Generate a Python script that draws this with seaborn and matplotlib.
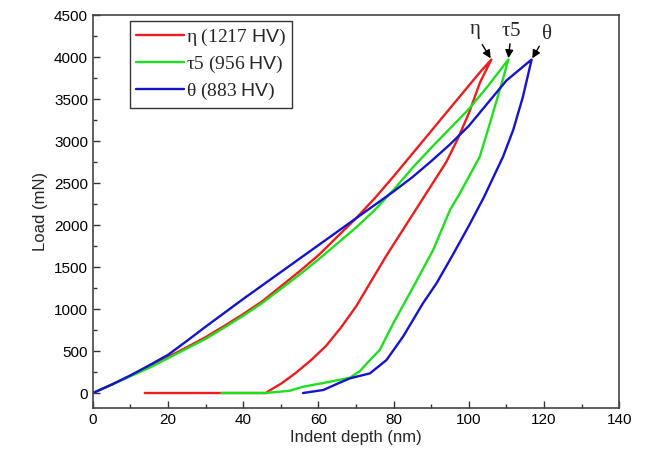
import matplotlib
matplotlib.use("Agg")
import matplotlib.pyplot as plt
import seaborn as sns
import pandas as pd
from matplotlib.ticker import MultipleLocator

# eta: loading then unloading (depth nm, load mN)
eta_depth = [0, 5, 10, 15, 20, 25, 30, 35, 40, 45, 50, 55, 60, 65, 70, 75, 80, 85, 90, 95, 100, 103, 106,
             103, 100, 97, 94, 90, 86, 82, 78, 74, 70, 66, 62, 58, 54, 50, 47, 46, 13.8]
eta_load = [0, 100, 205, 310, 430, 545, 665, 800, 940, 1090, 1270, 1450, 1640, 1860, 2080, 2320, 2580, 2850,
            3120, 3390, 3660, 3820, 3970,
            3700, 3330, 3020, 2750, 2470, 2190, 1910, 1630, 1330, 1030, 780, 560, 390, 240, 110, 30, 0, 0]

# tau5
tau_depth = [0, 5, 10, 15, 20, 25, 30, 35, 40, 45, 50, 55, 60, 65, 70, 75, 80, 85, 90, 95, 100, 105, 110.5,
             109, 105.6, 102.9, 97.6, 95, 90.5, 84.3, 79.9, 76.3, 73.7, 71, 68.4, 62, 55.9, 52.4, 46, 34.2]
tau_load = [0, 100, 200, 300, 415, 530, 645, 780, 920, 1070, 1240, 1410, 1590, 1780, 1970, 2180, 2420, 2680,
            2920, 3150, 3380, 3650, 3970,
            3726, 3210, 2813, 2377, 2180, 1702, 1187, 830, 512, 393, 260, 182, 125, 75, 27, 0, 0]

# theta
theta_depth = [0, 5, 10, 15, 20, 25, 30, 35, 40, 45, 50, 55, 60, 65, 70, 75, 80, 85, 90, 95, 100, 105, 110, 116.7,
               114.4, 111.8, 109.1, 104, 100, 95.8, 91.4, 87.8, 82.5, 78.1, 73.7, 68.4, 65, 61.3, 55.9]
theta_load = [0, 100, 210, 330, 455, 620, 790, 955, 1120, 1280, 1440, 1600, 1760, 1920, 2080, 2240, 2400, 2570,
              2760, 2960, 3180, 3450, 3720, 3970,
              3528, 3131, 2813, 2330, 1990, 1650, 1306, 1068, 671, 393, 234, 175, 110, 36, 0]

labels = [r"$\mathrm{\eta\ (1217\ }\mathsf{HV}\mathrm{)}$",
          r"$\mathrm{\tau 5\ (956\ }\mathsf{HV}\mathrm{)}$",
          r"$\mathrm{\theta\ (883\ }\mathsf{HV}\mathrm{)}$"]
colors = ["#ee1c1c", "#1ee01e", "#1414cc"]

frames = []
for lab, d, l in zip(labels, [eta_depth, tau_depth, theta_depth], [eta_load, tau_load, theta_load]):
    frames.append(pd.DataFrame({"depth": d, "load": l, "sample": lab}))
df = pd.concat(frames, ignore_index=True)

sns.set_style("ticks")
plt.rcParams["font.family"] = ["Liberation Sans", "DejaVu Sans"]
plt.rcParams["mathtext.fontset"] = "custom"
plt.rcParams["mathtext.rm"] = "Liberation Serif"
plt.rcParams["mathtext.it"] = "Liberation Serif:italic"
plt.rcParams["mathtext.sf"] = "Liberation Sans"

fig = plt.figure(figsize=(6.45, 4.55), dpi=100)
ax = fig.add_axes([0.144, 0.103, 0.816, 0.864])

sns.lineplot(data=df, x="depth", y="load", hue="sample", palette=colors,
             sort=False, estimator=None, units="sample", linewidth=1.7, ax=ax)

ax.set_xlim(0, 140)
ax.set_ylim(-180, 4500)
ax.xaxis.set_major_locator(MultipleLocator(20))
ax.xaxis.set_minor_locator(MultipleLocator(10))
ax.yaxis.set_major_locator(MultipleLocator(500))
ax.yaxis.set_minor_locator(MultipleLocator(250))
ax.tick_params(which="both", direction="in", top=False, right=False, labelsize=11, colors="#333333",
               labelcolor="black")
ax.tick_params(which="major", length=5, width=1)
ax.tick_params(which="minor", length=3, width=1)
for s in ax.spines.values():
    s.set_color("#444444")
    s.set_linewidth(1.2)

ax.set_xlabel("Indent depth (nm)", fontsize=12, labelpad=2)
ax.set_ylabel("Load (mN)", fontsize=12, labelpad=4)

leg = ax.legend(loc="upper left", bbox_to_anchor=(0.07, 0.985), fontsize=14, handlelength=2.5,
                handletextpad=0.1, labelspacing=0.3, borderpad=0.3, fancybox=False,
                framealpha=1, edgecolor="#333333", borderaxespad=0)
leg.get_frame().set_linewidth(1.0)
for h in leg.get_lines():
    h.set_linewidth(1.7)

arrow = dict(arrowstyle="-|>", color="black", lw=1, mutation_scale=12, shrinkA=0, shrinkB=1)
ax.annotate(r"$\mathrm{\eta}$", xy=(106, 3970), xytext=(101.5, 4300), ha="center", va="center",
            fontsize=15, arrowprops=arrow)
ax.annotate(r"$\mathrm{\tau 5}$", xy=(110.5, 3970), xytext=(111.3, 4310), ha="center", va="center",
            fontsize=15, arrowprops=arrow)
ax.annotate(r"$\mathrm{\theta}$", xy=(116.7, 3970), xytext=(120.7, 4280), ha="center", va="center",
            fontsize=15, arrowprops=arrow)

fig.savefig("out.png", dpi=100)
